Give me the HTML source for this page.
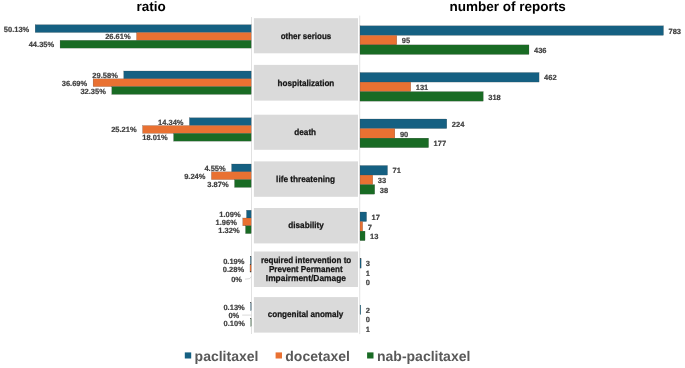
<!DOCTYPE html>
<html><head><meta charset="utf-8"><title>chart</title>
<style>html,body{margin:0;padding:0;background:#fff}body{width:685px;height:368px;overflow:hidden}</style></head>
<body>
<svg width="685" height="368" viewBox="0 0 685 368" style="display:block;will-change:transform;text-rendering:geometricPrecision">
<rect width="685" height="368" fill="#fff"/>
<rect x="251.1" y="17" width="0.9" height="317" fill="#dedede"/>
<rect x="359.3" y="15.6" width="0.9" height="318.5" fill="#dedede"/>
<rect x="253.9" y="18.2" width="104.1" height="35.10" fill="#dadada"/>
<rect x="253.9" y="64.9" width="104.1" height="35.70" fill="#dadada"/>
<rect x="253.9" y="114.7" width="104.1" height="35.10" fill="#dadada"/>
<rect x="253.9" y="161.4" width="104.1" height="35.40" fill="#dadada"/>
<rect x="253.9" y="208" width="104.1" height="35.40" fill="#dadada"/>
<rect x="253.9" y="251.5" width="104.1" height="35.50" fill="#dadada"/>
<rect x="253.9" y="297.1" width="104.1" height="35.50" fill="#dadada"/>
<g font-family="'Liberation Sans', Arial, sans-serif" font-weight="700" font-size="7.5" fill="#404040" stroke="#404040" stroke-width="0.2">
<rect x="35.14" y="24.70" width="216.06" height="7.8" fill="#156082"/>
<text x="29.24" y="31.60" text-anchor="end">50.13%</text>
<rect x="136.51" y="32.50" width="114.69" height="7.8" fill="#E97132"/>
<text x="130.61" y="39.40" text-anchor="end">26.61%</text>
<rect x="60.05" y="40.30" width="191.15" height="7.8" fill="#196B24"/>
<text x="54.15" y="47.20" text-anchor="end">44.35%</text>
<rect x="123.71" y="71.00" width="127.49" height="7.8" fill="#156082"/>
<text x="117.81" y="77.90" text-anchor="end">29.58%</text>
<rect x="93.07" y="78.80" width="158.13" height="7.8" fill="#E97132"/>
<text x="87.17" y="85.70" text-anchor="end">36.69%</text>
<rect x="111.77" y="86.60" width="139.43" height="7.8" fill="#196B24"/>
<text x="105.87" y="93.50" text-anchor="end">32.35%</text>
<rect x="189.39" y="117.75" width="61.81" height="7.8" fill="#156082"/>
<text x="183.49" y="124.65" text-anchor="end">14.34%</text>
<rect x="142.54" y="125.55" width="108.66" height="7.8" fill="#E97132"/>
<text x="136.64" y="132.45" text-anchor="end">25.21%</text>
<rect x="173.58" y="133.35" width="77.62" height="7.8" fill="#196B24"/>
<text x="167.68" y="140.25" text-anchor="end">18.01%</text>
<rect x="231.59" y="164.00" width="19.61" height="7.8" fill="#156082"/>
<text x="225.69" y="170.90" text-anchor="end">4.55%</text>
<rect x="211.38" y="171.80" width="39.82" height="7.8" fill="#E97132"/>
<text x="205.48" y="178.70" text-anchor="end">9.24%</text>
<rect x="234.52" y="179.60" width="16.68" height="7.8" fill="#196B24"/>
<text x="228.62" y="186.50" text-anchor="end">3.87%</text>
<rect x="246.50" y="210.20" width="4.70" height="7.8" fill="#156082"/>
<text x="240.60" y="217.10" text-anchor="end">1.09%</text>
<rect x="242.75" y="218.00" width="8.45" height="7.8" fill="#E97132"/>
<text x="236.85" y="224.90" text-anchor="end">1.96%</text>
<rect x="245.51" y="225.80" width="5.69" height="7.8" fill="#196B24"/>
<text x="239.61" y="232.70" text-anchor="end">1.32%</text>
<rect x="250.38" y="256.50" width="0.82" height="7.8" fill="#156082"/>
<text x="244.48" y="263.90" text-anchor="end">0.19%</text>
<rect x="249.99" y="264.30" width="1.21" height="7.8" fill="#E97132"/>
<text x="244.09" y="272.20" text-anchor="end">0.28%</text>
<text x="242.00" y="282.20" text-anchor="end">0%</text>
<rect x="250.64" y="302.90" width="0.56" height="7.8" fill="#156082"/>
<text x="244.74" y="310.40" text-anchor="end">0.13%</text>
<text x="239.30" y="318.10" text-anchor="end">0%</text>
<rect x="250.77" y="318.50" width="0.43" height="7.8" fill="#196B24"/>
<text x="244.87" y="326.20" text-anchor="end">0.10%</text>
<rect x="360" y="25.80" width="303.49" height="9.55" fill="#156082"/>
<text x="668.49" y="33.78">783</text>
<rect x="360" y="35.35" width="36.82" height="9.55" fill="#E97132"/>
<text x="401.82" y="43.33">95</text>
<rect x="360" y="44.90" width="168.99" height="9.55" fill="#196B24"/>
<text x="533.99" y="52.88">436</text>
<rect x="360" y="72.50" width="179.07" height="9.55" fill="#156082"/>
<text x="544.07" y="80.48">462</text>
<rect x="360" y="82.05" width="50.78" height="9.55" fill="#E97132"/>
<text x="415.78" y="90.03">131</text>
<rect x="360" y="91.60" width="123.26" height="9.55" fill="#196B24"/>
<text x="488.26" y="99.58">318</text>
<rect x="360" y="119.00" width="86.82" height="9.55" fill="#156082"/>
<text x="451.82" y="126.98">224</text>
<rect x="360" y="128.55" width="34.88" height="9.55" fill="#E97132"/>
<text x="399.88" y="136.53">90</text>
<rect x="360" y="138.10" width="68.61" height="9.55" fill="#196B24"/>
<text x="433.61" y="146.07">177</text>
<rect x="360" y="165.50" width="27.52" height="9.55" fill="#156082"/>
<text x="392.52" y="173.47">71</text>
<rect x="360" y="175.05" width="12.79" height="9.55" fill="#E97132"/>
<text x="377.79" y="183.03">33</text>
<rect x="360" y="184.60" width="14.73" height="9.55" fill="#196B24"/>
<text x="379.73" y="192.57">38</text>
<rect x="360" y="212.00" width="6.59" height="9.55" fill="#156082"/>
<text x="371.59" y="219.97">17</text>
<rect x="360" y="221.55" width="2.71" height="9.55" fill="#E97132"/>
<text x="367.71" y="229.53">7</text>
<rect x="360" y="231.10" width="5.04" height="9.55" fill="#196B24"/>
<text x="370.04" y="239.07">13</text>
<rect x="360" y="258.60" width="1.16" height="9.55" fill="#156082"/>
<text x="365.80" y="266.40">3</text>
<text x="365.80" y="275.90">1</text>
<text x="365.80" y="285.40">0</text>
<rect x="360" y="305.00" width="0.78" height="9.55" fill="#156082"/>
<text x="365.80" y="312.90">2</text>
<text x="365.80" y="322.10">0</text>
<text x="365.80" y="331.90">1</text>
</g>
<path d="M245 279.2 L249.8 278.6 L251.2 276.6" fill="none" stroke="#bfbfbf" stroke-width="0.6"/>
<path d="M242.2 315.1 L251.2 315.1" fill="none" stroke="#bfbfbf" stroke-width="0.6"/>
<g font-family="'Liberation Sans', Arial, sans-serif" font-weight="700" font-size="8.7" fill="#141414" stroke="#141414" stroke-width="0.25" text-anchor="middle" lengthAdjust="spacingAndGlyphs">
<text x="306.00" y="38.7" textLength="50.6" lengthAdjust="spacingAndGlyphs">other serious</text>
<text x="305.95" y="85.7" textLength="56.7" lengthAdjust="spacingAndGlyphs">hospitalization</text>
<text x="305.20" y="135" textLength="21.8" lengthAdjust="spacingAndGlyphs">death</text>
<text x="305.55" y="181.7" textLength="58.9" lengthAdjust="spacingAndGlyphs">life threatening</text>
<text x="306.00" y="228" textLength="35.4" lengthAdjust="spacingAndGlyphs">disability</text>
<text x="306.10" y="262.5" textLength="90.4" lengthAdjust="spacingAndGlyphs">required intervention to</text>
<text x="305.75" y="271.8" textLength="73.7" lengthAdjust="spacingAndGlyphs">Prevent Permanent</text>
<text x="305.90" y="281" textLength="80.2" lengthAdjust="spacingAndGlyphs">Impairment/Damage</text>
<text x="305.50" y="316.5" textLength="75.6" lengthAdjust="spacingAndGlyphs">congenital anomaly</text>
</g>
<g font-family="'Liberation Sans', Arial, sans-serif" font-weight="700" font-size="13.5" fill="#000">
<text x="136.6" y="11.3">ratio</text>
<text x="449.5" y="11.3">number of reports</text>
</g>
<g font-family="'Liberation Sans', Arial, sans-serif" font-weight="700" font-size="14" fill="#595959">
<rect x="184.8" y="352.4" width="6.4" height="6.1" fill="#156082"/><text x="194.6" y="360.7">paclitaxel</text>
<rect x="275.6" y="352.4" width="6.4" height="6.1" fill="#E97132"/><text x="285.3" y="360.7">docetaxel</text>
<rect x="367.1" y="352.4" width="6.4" height="6.1" fill="#196B24"/><text x="377" y="360.7">nab-paclitaxel</text>
</g>
</svg>
</body></html>
